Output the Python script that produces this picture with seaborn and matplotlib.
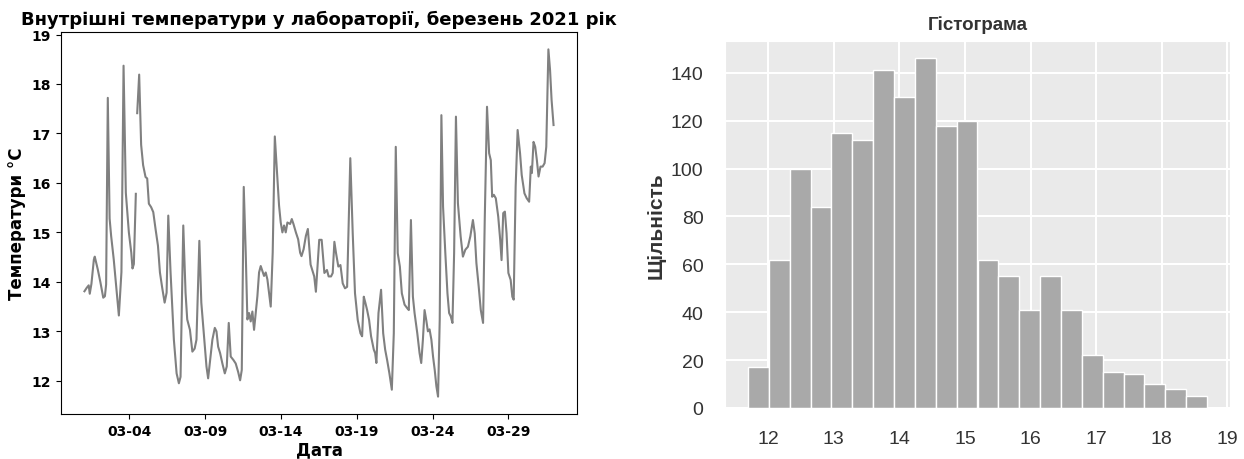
import numpy as np
import pandas as pd
import matplotlib
matplotlib.use("Agg")
import matplotlib.pyplot as plt
import seaborn as sns

# ---------------- data ----------------
# left panel: temperature trace, day of March 2021 (fractional) and value, two segments (gap on 03-04)
day_seg1 = [1.03, 1.18, 1.31, 1.38, 1.49, 1.65, 1.71, 1.91, 2.09, 2.27, 2.38, 2.46, 2.57, 2.69,
            2.79, 2.96, 3.30, 3.47, 3.61, 3.76, 3.96, 4.12, 4.20, 4.29, 4.42]
temp_seg1 = [13.81, 13.88, 13.93, 13.76, 13.96, 14.45, 14.51, 14.25, 13.98, 13.68, 13.71, 13.95, 17.72, 15.28,
             14.93, 14.46, 13.32, 14.2, 18.37, 15.8, 15.0, 14.59, 14.27, 14.36, 15.78]

day_seg2 = [4.51, 4.64, 4.77, 4.90, 5.06, 5.17, 5.28, 5.43, 5.57, 5.72, 5.88, 6.01, 6.16, 6.32, 6.45,
            6.56, 6.71, 6.93, 7.11, 7.26, 7.37, 7.55, 7.70, 7.81, 7.99, 8.15, 8.30, 8.42, 8.61, 8.74,
            8.92, 9.08, 9.19, 9.32, 9.47, 9.63, 9.74, 9.85, 9.98, 10.13, 10.29, 10.42, 10.55, 10.68,
            10.86, 11.01, 11.17, 11.30, 11.41, 11.54, 11.67, 11.78, 11.89, 12.00, 12.11, 12.22, 12.33,
            12.44, 12.55, 12.66, 12.77, 12.88, 12.99, 13.10, 13.21, 13.32, 13.45, 13.59, 13.72, 13.87,
            13.98, 14.09, 14.20, 14.31, 14.42, 14.60, 14.71, 14.82, 14.98, 15.13, 15.26, 15.35, 15.49,
            15.64, 15.77, 15.95, 16.19, 16.30, 16.52, 16.68, 16.86, 17.03, 17.14, 17.30, 17.41, 17.52,
            17.63, 17.78, 17.92, 18.07, 18.22, 18.36, 18.57, 18.73, 18.88, 19.06, 19.24, 19.35, 19.46,
            19.57, 19.68, 19.81, 19.94, 20.12, 20.21, 20.29, 20.43, 20.60, 20.74, 20.87, 21.00, 21.15,
            21.31, 21.44, 21.57, 21.70, 21.84, 21.97, 22.15, 22.32, 22.43, 22.57, 22.70, 22.81, 22.99,
            23.14, 23.25, 23.36, 23.47, 23.58, 23.69, 23.80, 23.92, 24.03, 24.14, 24.25, 24.36, 24.47,
            24.58, 24.69, 24.84, 24.98, 25.09, 25.20, 25.31, 25.42, 25.54, 25.67, 25.85, 26.00, 26.16,
            26.33, 26.49, 26.66, 26.78, 26.89, 27.04, 27.18, 27.33, 27.44, 27.59, 27.73, 27.84, 27.93,
            28.04, 28.17, 28.33, 28.46, 28.55, 28.66, 28.77, 28.88, 29.00, 29.15, 29.26, 29.35, 29.48,
            29.61, 29.77, 29.88, 30.06, 30.21, 30.37, 30.48, 30.55, 30.66, 30.77, 30.88, 30.99, 31.12,
            31.26, 31.39, 31.50, 31.64, 31.75, 31.85, 31.98]
temp_seg2 = [17.41, 18.19, 16.77, 16.36, 16.12, 16.09, 15.58, 15.51, 15.41, 15.07, 14.73, 14.19, 13.88, 13.58, 13.78,
             15.34, 14.2, 12.83, 12.15, 11.95, 12.08, 15.14, 13.78, 13.24, 13.03, 12.59, 12.65, 12.83, 14.83, 13.58,
             12.9, 12.29, 12.05, 12.42, 12.83, 13.07, 13.0, 12.69, 12.56, 12.35, 12.15, 12.29, 13.17, 12.49,
             12.42, 12.35, 12.18, 12.01, 12.22, 15.92, 14.59, 13.24, 13.37, 13.2, 13.4, 13.03, 13.37,
             13.71, 14.19, 14.32, 14.22, 14.12, 14.19, 14.05, 13.78, 13.5, 14.59, 16.94, 16.29, 15.54,
             15.2, 15.0, 15.14, 15.0, 15.2, 15.17, 15.27, 15.17, 15.0, 14.86, 14.59, 14.52, 14.66,
             14.93, 15.07, 14.35, 14.11, 13.8, 14.85, 14.85, 14.18, 14.24, 14.11, 14.11, 14.18, 14.81,
             14.58, 14.31, 14.34, 13.97, 13.87, 13.9, 16.5, 14.98, 13.77, 13.23, 12.96, 12.9, 13.7,
             13.57, 13.43, 13.23, 12.9, 12.63, 12.56, 12.36, 13.37, 13.84, 12.96, 12.63, 12.42, 12.15,
             11.82, 12.96, 16.73, 14.58, 14.31, 13.77, 13.54, 13.47, 13.43, 15.25, 13.7, 13.37, 12.96,
             12.56, 12.36, 12.83, 13.43, 13.23, 13.0, 13.04, 12.83, 12.49, 12.22, 11.89, 11.68, 13.23,
             17.37, 15.52, 14.58, 13.77, 13.37, 13.3, 13.17, 14.58, 17.34, 15.59, 14.92, 14.51, 14.65,
             14.71, 14.92, 15.25, 14.98, 14.38, 13.91, 13.43, 13.17, 15.25, 17.54, 16.6, 16.46, 15.72,
             15.76, 15.69, 15.32, 14.85, 14.44, 15.39, 15.42, 14.98, 14.18, 14.04, 13.7, 13.64, 15.93,
             17.07, 16.6, 16.16, 15.79, 15.69, 15.62, 16.33, 16.2, 16.83, 16.73, 16.46, 16.13, 16.33,
             16.33, 16.4, 16.73, 18.7, 18.28, 17.68, 17.17]

date_tick_values = ["2021-03-04", "2021-03-09", "2021-03-14", "2021-03-19", "2021-03-24", "2021-03-29"]
date_tick_labels = ["03-04", "03-09", "03-14", "03-19", "03-24", "03-29"]
temp_ticks = [12, 13, 14, 15, 16, 17, 18, 19]

# right panel: histogram bin counts (22 equal bins)
hist_counts = [17, 62, 100, 84, 115, 112, 141, 130, 146, 118, 120, 62, 55, 41, 55, 41, 22, 15, 14, 10, 8, 5]
hist_lo, hist_hi = 11.69, 18.69
hist_xticks = [12, 13, 14, 15, 16, 17, 18, 19]
hist_yticks = [0, 20, 40, 60, 80, 100, 120, 140]

left_title = "Внутрішні температури у лабораторії, березень 2021 рік"
left_ylabel = "Температури °C"
left_xlabel = "Дата"
right_title = "Гістограма"
right_ylabel = "Щільність"

# ---------------- build frames ----------------
start = pd.Timestamp("2021-03-01")
frames = []
for seg_id, (d, t) in enumerate([(day_seg1, temp_seg1), (day_seg2, temp_seg2)]):
    d = np.asarray(d, float)
    frames.append(pd.DataFrame({
        "date": start + pd.to_timedelta(d - 1.0, unit="D"),
        "temp": t,
        "seg": seg_id,
    }))
line_df = pd.concat(frames, ignore_index=True)

nbins = len(hist_counts)
bw = (hist_hi - hist_lo) / nbins
centers = hist_lo + bw * (np.arange(nbins) + 0.5)
hist_df = pd.DataFrame({"temp": centers, "count": hist_counts})

# ---------------- figure ----------------
fig = plt.figure(figsize=(12.44, 4.6), dpi=100)

# left panel (plain matplotlib look)
ax1 = fig.add_axes([61 / 1244, 1 - 415 / 460, (577 - 61) / 1244, (415 - 33) / 460])
sns.lineplot(data=line_df, x="date", y="temp", units="seg", estimator=None,
             color="gray", linewidth=1.5, ax=ax1)
ax1.set_xticks(pd.to_datetime(date_tick_values))
ax1.set_xticklabels(date_tick_labels, fontweight="bold", fontsize=10)
ax1.set_yticks(temp_ticks)
ax1.set_yticklabels([str(v) for v in temp_ticks], fontweight="bold", fontsize=10)
ax1.set_title(left_title, fontsize=13, fontweight="bold", pad=6)
ax1.set_ylabel(left_ylabel, fontsize=12, fontweight="bold")
ax1.set_xlabel(left_xlabel, fontsize=12, fontweight="bold", labelpad=2)

# right panel (seaborn darkgrid look)
with sns.axes_style("darkgrid", {"axes.facecolor": "#eaeaea", "grid.linewidth": 1.5}):
    ax2 = fig.add_axes([725 / 1244, 1 - 409 / 460, (1230 - 725) / 1244, (409 - 42) / 460])
sns.histplot(data=hist_df, x="temp", weights="count", bins=nbins, binrange=(hist_lo, hist_hi),
             color="#a9a9a9", alpha=1.0, edgecolor="white", linewidth=1.0, ax=ax2)
ax2.grid(True, color="white", linewidth=1.5)
ax2.set_xticks(hist_xticks)
ax2.set_yticks(hist_yticks)
ax2.tick_params(labelsize=14, labelfontfamily="Liberation Sans", labelcolor="#333333", pad=12)
ax2.set_title(right_title, fontsize=13.5, fontweight="bold", family="Liberation Sans",
              color="#333333", pad=9)
ax2.set_ylabel(right_ylabel, fontsize=15, fontweight="bold", family="Liberation Sans",
               color="#333333", labelpad=4)
ax2.set_xlabel("")

fig.savefig("out.png", dpi=100)
